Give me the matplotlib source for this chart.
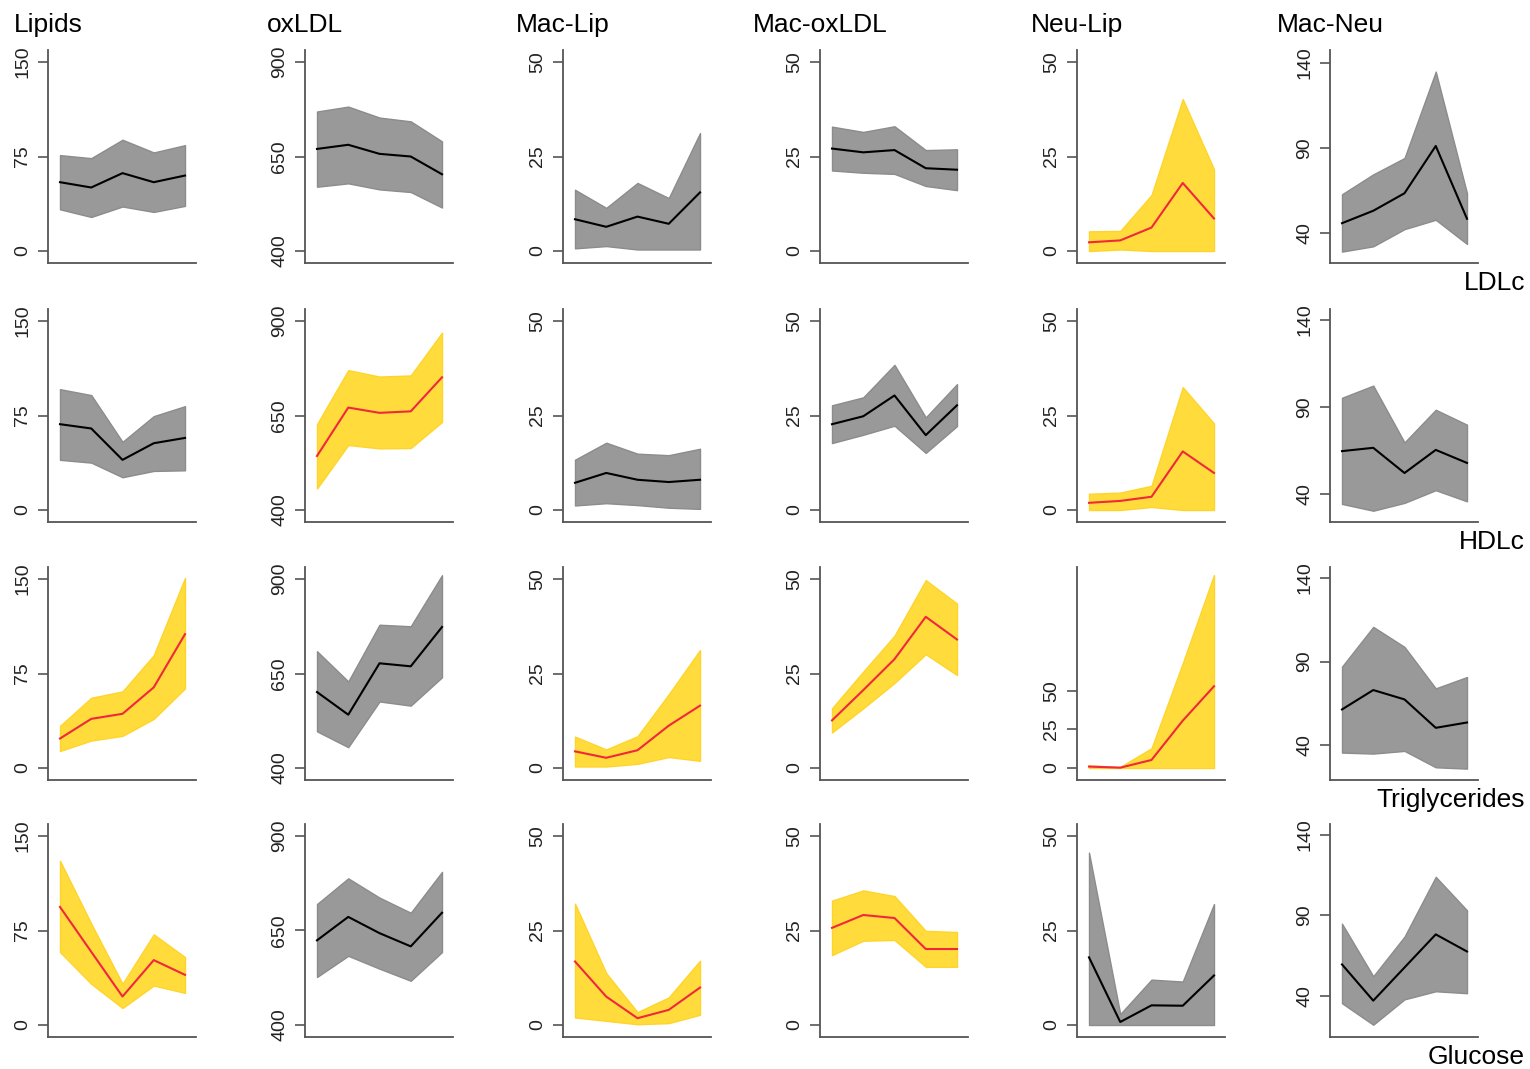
import matplotlib
matplotlib.use('Agg')
import matplotlib.pyplot as plt
import numpy as np

plt.rcParams['font.family'] = ['Liberation Sans', 'DejaVu Sans']

columns = ['Lipids', 'oxLDL', 'Mac-Lip', 'Mac-oxLDL', 'Neu-Lip', 'Mac-Neu']
outcomes = ['LDLc', 'HDLc', 'Triglycerides', 'Glucose']
timepoints = [1, 2, 3, 4, 5]

# mean / lower / upper per column, one set per outcome
ldlc_mean = [[54.6, 50.4, 61.8, 54.6, 59.9], [670, 681, 657, 650, 603],
             [8.4, 6.4, 9.1, 7.2, 15.5], [27.1, 26.1, 26.7, 21.9, 21.5],
             [2.3, 2.8, 6.2, 18.0, 8.6], [45.8, 53.1, 63.4, 91.2, 48.4]]
ldlc_low = [[33.1, 27.0, 35.3, 31.0, 35.8], [570, 579, 563, 556, 515],
            [0.7, 1.3, 0.4, 0.4, 0.4], [21.3, 20.7, 20.4, 17.2, 16.1],
            [0.0, 0.4, 0.0, 0.0, 0.0], [29.1, 32.2, 42.3, 47.8, 33.6]]
ldlc_high = [[76.1, 73.7, 88.3, 78.2, 84.0], [769, 782, 753, 743, 690],
             [16.2, 11.4, 18.0, 14.0, 31.2], [32.9, 31.5, 33.0, 26.7, 26.9],
             [5.2, 5.3, 14.8, 40.2, 21.6], [62.8, 74.5, 84.1, 134.9, 63.4]]

hdlc_mean = [[68.1, 64.7, 39.8, 53.0, 57.2], [543, 671, 657, 661, 751],
             [7.2, 9.8, 8.0, 7.4, 8.0], [22.7, 24.8, 30.3, 19.8, 27.7],
             [1.9, 2.4, 3.5, 15.5, 9.8], [64.6, 66.5, 52.0, 65.3, 57.8]]
hdlc_low = [[39.8, 37.6, 26.0, 31.0, 31.5], [457, 572, 563, 564, 633],
            [1.2, 1.8, 1.3, 0.6, 0.3], [17.7, 19.9, 22.3, 15.1, 22.2],
            [0.0, 0.0, 0.8, 0.0, 0.0], [34.2, 30.3, 34.8, 42.1, 35.7]]
hdlc_high = [[95.9, 91.2, 54.1, 74.5, 82.4], [627, 770, 753, 756, 869],
             [13.3, 17.8, 14.9, 14.5, 16.2], [27.7, 29.8, 38.4, 24.5, 33.3],
             [4.3, 4.6, 6.4, 32.5, 22.9], [95.3, 102.3, 69.6, 88.4, 79.8]]

tg_mean = [[23.4, 39.0, 43.0, 64.0, 106.2], [601, 541, 677, 669, 773],
           [4.4, 2.7, 4.7, 11.2, 16.5], [12.6, 20.6, 28.8, 40.0, 34.0],
           [0.9, 0.2, 5.2, 30.7, 53.0], [61.4, 73.0, 67.4, 50.4, 53.6]]
tg_low = [[13.5, 21.8, 25.5, 39.0, 63.2], [497, 455, 576, 565, 640],
          [0.4, 0.4, 1.1, 2.9, 1.9], [9.4, 15.8, 22.5, 30.1, 24.6],
          [0.0, 0.0, 0.0, 0.0, 0.0], [35.6, 35.0, 36.6, 26.8, 26.0]]
tg_high = [[33.4, 55.7, 60.8, 89.5, 150.8], [709, 629, 779, 775, 910],
           [8.3, 4.9, 8.4, 19.5, 31.2], [15.8, 25.5, 35.0, 49.7, 43.5],
           [1.7, 0.7, 12.8, 68.0, 125.2], [87.0, 110.8, 98.8, 74.0, 80.8]]

glu_mean = [[93.7, 58.1, 22.6, 51.5, 39.8], [624, 686, 643, 608, 697],
            [16.8, 7.5, 1.8, 4.0, 9.9], [25.7, 29.1, 28.3, 20.1, 20.1],
            [17.9, 0.8, 5.2, 5.1, 13.1], [59.7, 37.3, 57.8, 78.3, 67.7]]
glu_low = [[57.9, 32.7, 13.5, 31.3, 25.5], [527, 583, 549, 517, 593],
           [2.0, 1.1, 0.2, 0.5, 2.7], [18.5, 22.3, 22.5, 15.4, 15.4],
           [0.0, 0.0, 0.0, 0.0, 0.0], [35.7, 22.4, 38.1, 43.1, 41.9]]
glu_high = [[130.3, 80.4, 32.7, 71.9, 53.9], [720, 788, 737, 697, 805],
            [32.1, 13.7, 3.4, 7.3, 17.0], [32.9, 35.6, 34.1, 24.9, 24.6],
            [45.6, 2.9, 12.0, 11.5, 32.0], [84.9, 52.4, 76.9, 113.9, 93.2]]

# 1 = highlighted association
significant = [[0, 0, 0, 0, 1, 0],
               [0, 1, 0, 0, 1, 0],
               [1, 0, 1, 1, 1, 0],
               [1, 0, 1, 1, 0, 0]]

col_ticks = [(0, 75, 150), (400, 650, 900), (0, 25, 50),
             (0, 25, 50), (0, 25, 50), (40, 90, 140)]

means = [ldlc_mean, hdlc_mean, tg_mean, glu_mean]
lows = [ldlc_low, hdlc_low, tg_low, glu_low]
highs = [ldlc_high, hdlc_high, tg_high, glu_high]

W, H = 1530, 1069
fig = plt.figure(figsize=(W / 100, H / 100), dpi=100)

lefts = [48, 305, 563, 820, 1077, 1330]
tops = [50, 309, 567, 824]
pw, ph = 148, 213

macneu_lim = [(22.4, 147.6), (23.8, 146.4), (19.2, 146.6), (14.8, 146.6)]

for r in range(4):
    for c in range(6):
        ax = fig.add_axes([lefts[c] / W, 1 - (tops[r] + ph) / H, pw / W, ph / H])
        m = np.array(means[r][c])
        lo = np.array(lows[r][c])
        hi = np.array(highs[r][c])
        if significant[r][c]:
            ax.fill_between(timepoints, lo, hi, facecolor='#ffdc3c',
                            edgecolor='#ffd42a', linewidth=1)
            ax.plot(timepoints, m, color='#f0283c', lw=1.5)
        else:
            ax.fill_between(timepoints, lo, hi, facecolor='#999999',
                            edgecolor='#8c8c8c', linewidth=1)
            ax.plot(timepoints, m, color='black', lw=1.5)

        ticks = col_ticks[c]
        if c == 5:
            ylim = macneu_lim[r]
        elif r == 2 and c == 4:
            ticks = (0, 25, 50)
            ylim = (-7.8, 130.4)
        else:
            pad = (ticks[-1] - ticks[0]) * 12 / 189
            ylim = (ticks[0] - pad, ticks[-1] + pad)
        ax.set_ylim(ylim)
        ax.set_xlim(0.616, 5.352)
        ax.set_yticks(ticks)
        ax.set_yticklabels([str(t) for t in ticks], rotation=90, va='center',
                           fontsize=14, color='#222222')
        ax.set_xticks([])
        for s in ['top', 'right']:
            ax.spines[s].set_visible(False)
        for s in ['left', 'bottom']:
            ax.spines[s].set_color('#555555')
            ax.spines[s].set_linewidth(1.3)
        ax.tick_params(axis='y', length=7, width=1.2, color='#555555', pad=5)
        ax.patch.set_alpha(0)

# column titles centred over each left axis
for c, name in enumerate(columns):
    fig.text(lefts[c] / W, 1 - 25 / H, name, ha='center', va='center', fontsize=19)

# outcome names at the lower right of each row
for r, name in enumerate(outcomes):
    fig.text(1525 / W, 1 - (tops[r] + ph + 20) / H, name, ha='right',
             va='center', fontsize=19)

fig.savefig('out.png', dpi=100, facecolor='white')
